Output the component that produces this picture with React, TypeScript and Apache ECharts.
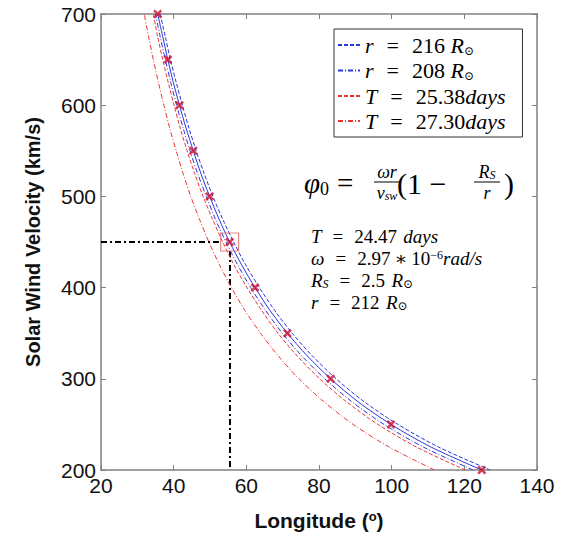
import React, { useEffect, useRef } from "react";
import * as echarts from "echarts";

// Solar wind velocity (km/s) shared by all curves
const velocity = [200, 225, 250, 275, 300, 325, 350, 375, 400, 425, 450, 475, 500, 525, 550, 575, 600, 625, 650, 675, 700];
// Longitude (deg) for each curve
const lonMain = [124.8, 110.9, 99.8, 90.7, 83.2, 76.8, 71.3, 66.5, 62.4, 58.7, 55.4, 52.5, 49.9, 47.5, 45.4, 43.4, 41.6, 39.9, 38.4, 37.0, 35.6];
const lonR216 = [127.1, 113.0, 101.7, 92.4, 84.7, 78.2, 72.6, 67.8, 63.6, 59.8, 56.5, 53.5, 50.8, 48.4, 46.2, 44.2, 42.4, 40.7, 39.1, 37.7, 36.3];
const lonR208 = [122.4, 108.8, 97.9, 89.0, 81.6, 75.3, 69.9, 65.3, 61.2, 57.6, 54.4, 51.5, 49.0, 46.6, 44.5, 42.6, 40.8, 39.2, 37.7, 36.3, 35.0];
const lonT2538 = [120.3, 106.9, 96.2, 87.5, 80.2, 74.0, 68.7, 64.2, 60.2, 56.6, 53.5, 50.7, 48.1, 45.8, 43.7, 41.8, 40.1, 38.5, 37.0, 35.6, 34.4];
const lonT2730 = [111.8, 99.4, 89.4, 81.3, 74.5, 68.8, 63.9, 59.6, 55.9, 52.6, 49.7, 47.1, 44.7, 42.6, 40.7, 38.9, 37.3, 35.8, 34.4, 33.1, 31.9];
// Marked points every 50 km/s
const markerVelocity = [200, 250, 300, 350, 400, 450, 500, 550, 600, 650, 700];
// Highlighted point and guide lines
const highlight = [55.4, 450];
const guideH = [[20, 450], [52.8, 450]];
const guideV = [[55.5, 440], [55.5, 200]];

const seriesNames = ["r = 216 R⊙", "r = 208 R⊙", "T = 25.38days", "T = 27.30days"];

const BLUE = "#2b36d9";
const RED = "#ec3434";
const SERIF = "'Liberation Serif', 'DejaVu Serif', serif";
const SANS = "'Liberation Sans', Arial, sans-serif";

const pair = (xs: number[]) => xs.map((x, i) => [x, velocity[i]]);

export default function App() {
  const ref = useRef<HTMLDivElement>(null);
  useEffect(() => {
    document.body.style.margin = "0";
    const chart = echarts.init(ref.current!, null, { renderer: "svg" });
    const markerData = markerVelocity.map((v) => [lonMain[velocity.indexOf(v)], v]);
    const legendMap: Record<string, string> = {
      "r = 216 R⊙": "{i|r}{eq|=}{n|216} {i|R}{sub|⊙}",
      "r = 208 R⊙": "{i|r}{eq|=}{n|208} {i|R}{sub|⊙}",
      "T = 25.38days": "{i|T}{eq|=}{n|25.38}{i|days}",
      "T = 27.30days": "{i|T}{eq|=}{n|27.30}{i|days}",
    };
    const mkRich = (fs: number, lh: number, pad: number) => ({
      i: { fontFamily: SERIF, fontStyle: "italic", fontSize: fs, color: "#000", lineHeight: lh },
      n: { fontFamily: SERIF, fontSize: fs, color: "#000", lineHeight: lh },
      sp: { fontFamily: SERIF, fontSize: fs, color: "#000", lineHeight: lh, padding: [0, 3, 0, 0] },
      eq: { fontFamily: SERIF, fontSize: fs, color: "#000", lineHeight: lh, padding: [0, pad, 0, pad] },
      st: { fontFamily: SERIF, fontSize: fs, color: "#000", lineHeight: lh, padding: [0, 4, 0, 4] },
      sub: { fontFamily: SERIF, fontSize: 12, color: "#000", verticalAlign: "bottom", lineHeight: 12 },
      subi: { fontFamily: SERIF, fontStyle: "italic", fontSize: 12, color: "#000", verticalAlign: "bottom", lineHeight: 12 },
      sup: { fontFamily: SERIF, fontSize: 12, color: "#000", verticalAlign: "top", lineHeight: 12 },
    });
    const rich = mkRich(19, 19, 11);
    const axisLine = { lineStyle: { color: "#808080", width: 1.5 } };
    const axisTick = { inside: true, length: 5, lineStyle: { color: "#808080", width: 1 } };
    const line = (name: string, data: number[][], color: string, type: any) => ({
      name,
      type: "line",
      data,
      symbol: "none",
      smooth: 0.3,
      lineStyle: { color, width: 1, type },
      itemStyle: { color },
      z: 3,
    });
    const fracRich = {
      i: { fontFamily: SERIF, fontStyle: "italic", fontSize: 18, lineHeight: 18 },
      subi: { fontFamily: SERIF, fontStyle: "italic", fontSize: 12, verticalAlign: "bottom", lineHeight: 12 },
    };
    chart.setOption({
      animation: false,
      backgroundColor: "#fff",
      grid: { left: 101, right: 34, top: 14, bottom: 69 },
      xAxis: [
        {
          type: "value", min: 20, max: 140, interval: 20, position: "bottom",
          axisLine, axisTick, splitLine: { show: false },
          axisLabel: { fontFamily: SANS, fontSize: 21, color: "#111", margin: 5 },
          name: "Longitude ({sup|o})", nameLocation: "middle", nameGap: 40,
          nameTextStyle: {
            fontFamily: SANS, fontSize: 21, fontWeight: "bold", color: "#111",
            rich: { sup: { fontFamily: SANS, fontSize: 13, fontWeight: "bold", color: "#111", verticalAlign: "top", lineHeight: 13 } },
          },
        },
        {
          type: "value", min: 20, max: 140, interval: 20, position: "top",
          axisLine, axisTick, splitLine: { show: false }, axisLabel: { show: false },
        },
      ],
      yAxis: [
        {
          type: "value", min: 200, max: 700, interval: 100, position: "left",
          axisLine, axisTick, splitLine: { show: false },
          axisLabel: { fontFamily: SANS, fontSize: 21, color: "#111", margin: 5 },
          name: "Solar Wind Velocity (km/s)", nameLocation: "middle", nameGap: 58,
          nameTextStyle: { fontFamily: SANS, fontSize: 20, fontWeight: "bold", color: "#111" },
        },
        {
          type: "value", min: 200, max: 700, interval: 100, position: "right",
          axisLine, axisTick, splitLine: { show: false }, axisLabel: { show: false },
        },
      ],
      legend: {
        data: seriesNames,
        orient: "vertical",
        left: 334,
        top: 29,
        itemWidth: 22,
        itemHeight: 10,
        itemGap: 3,
        padding: [5, 17, 5, 3],
        borderColor: "#333",
        borderWidth: 1,
        backgroundColor: "#fff",
        itemStyle: { opacity: 0 },
        textStyle: { fontFamily: SERIF, fontSize: 22, color: "#000", rich: mkRich(22, 23, 13) },
        formatter: (name: string) => legendMap[name] || name,
      },
      series: [
        line(seriesNames[0], pair(lonR216), BLUE, [4, 2]),
        line(seriesNames[1], pair(lonR208), BLUE, [5, 2, 1, 2]),
        line(seriesNames[2], pair(lonT2538), RED, [4, 2]),
        line(seriesNames[3], pair(lonT2730), RED, [5, 2, 1, 2]),
        line("main", pair(lonMain), BLUE, "solid"),
        {
          name: "markers", type: "scatter", data: markerData,
          symbol: "path://M0,2 L2,0 L5,3 L8,0 L10,2 L7,5 L10,8 L8,10 L5,7 L2,10 L0,8 L3,5 Z",
          symbolSize: 9, itemStyle: { color: "#c8102e" }, z: 5,
        },
        {
          name: "highlight", type: "scatter", data: [highlight],
          symbol: "rect", symbolSize: 18,
          itemStyle: { color: "rgba(0,0,0,0)", borderColor: "#e06a6a", borderWidth: 1.2 }, z: 4,
        },
        {
          name: "guideH", type: "line", data: guideH, symbol: "none",
          lineStyle: { color: "#000", width: 2, type: [6, 3, 2, 3] }, z: 2,
        },
        {
          name: "guideV", type: "line", data: guideV, symbol: "none",
          lineStyle: { color: "#000", width: 2, type: [6, 3, 2, 3] }, z: 2,
        },
      ],
      graphic: [
        // Equation phi_0 = (omega r / v_sw)(1 - R_S / r)
        { type: "text", x: 304, y: 183, style: { text: "{i|φ}{sub|0}{eq|=}", verticalAlign: "middle", rich: {
          i: { fontFamily: SERIF, fontStyle: "italic", fontSize: 29, lineHeight: 30 },
          eq: { fontFamily: SERIF, fontSize: 29, lineHeight: 30, padding: [0, 6, 0, 8] },
          sub: { fontFamily: SERIF, fontSize: 18, verticalAlign: "bottom", lineHeight: 18 },
        } } },
        { type: "text", x: 387, y: 172, style: { text: "ωr", font: `italic 18px ${SERIF}`, align: "center", verticalAlign: "middle", fill: "#000" } },
        { type: "line", shape: { x1: 374, y1: 182, x2: 400, y2: 182 }, style: { stroke: "#000", lineWidth: 1 } },
        { type: "text", x: 387, y: 193, style: { text: "{i|v}{subi|sw}", align: "center", verticalAlign: "middle", rich: fracRich } },
        { type: "text", x: 397, y: 183, style: { text: "(1 −", font: `30px ${SERIF}`, verticalAlign: "middle", fill: "#000" } },
        { type: "text", x: 487, y: 172, style: { text: "{i|R}{subi|S}", align: "center", verticalAlign: "middle", rich: fracRich } },
        { type: "line", shape: { x1: 474, y1: 182, x2: 500, y2: 182 }, style: { stroke: "#000", lineWidth: 1 } },
        { type: "text", x: 487, y: 193, style: { text: "r", font: `italic 18px ${SERIF}`, align: "center", verticalAlign: "middle", fill: "#000" } },
        { type: "text", x: 504, y: 183, style: { text: ")", font: `30px ${SERIF}`, verticalAlign: "middle", fill: "#000" } },
        // Parameters
        { type: "text", left: 311, top: 227, style: { text: "{i|T}{eq|=}{sp|24.47} {i|days}", rich } },
        { type: "text", left: 311, top: 249, style: { text: "{i|ω}{eq|=}{n|2.97}{st|∗}{n|10}{sup|−6}{i|rad/s}", rich } },
        { type: "text", left: 311, top: 271, style: { text: "{i|R}{subi|S}{eq|=}{sp|2.5} {i|R}{sub|⊙}", rich } },
        { type: "text", left: 311, top: 293, style: { text: "{i|r}{eq|=}{sp|212} {i|R}{sub|⊙}", rich } },
      ],
    });
    return () => chart.dispose();
  }, []);
  return <div ref={ref} style={{ width: 571, height: 539 }} />;
}
